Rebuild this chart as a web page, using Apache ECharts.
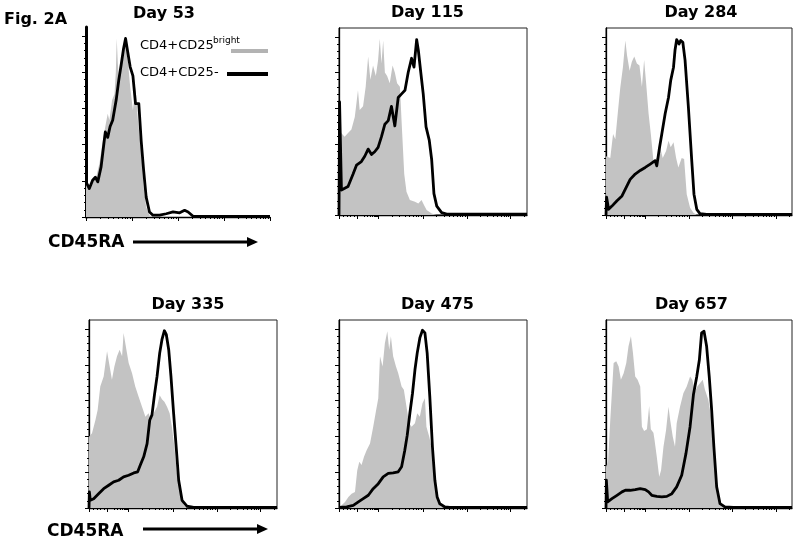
<!DOCTYPE html>
<html><head><meta charset="utf-8">
<script src="https://cdn.jsdelivr.net/npm/echarts@6/dist/echarts.min.js"></script>
<style>html,body{margin:0;padding:0;background:#fff}#c{width:800px;height:545px}</style>
</head><body><div id="c"></div>
<script>
// ---------- data ----------
const panelTitles = ['Day 53', 'Day 115', 'Day 284', 'Day 335', 'Day 475', 'Day 657'];
const seriesNames = ['CD4+CD25bright', 'CD4+CD25-'];
const xAxisLabel = 'CD45RA';

// x = position on the CD45RA display scale (0-100), y = % of max
const brightDay53 = [[0,18.5],[1.8,16.6],[3.6,20.3],[5.5,22],[7.3,29.5],[9.1,42],[10.5,50],[11.8,57],[12.7,53.5],[14.2,64.6],[15.5,68],[16.2,80],[16.7,98.7],[17.3,85],[17.8,77.5],[19.1,81],[20.4,92],[21.5,97],[22.7,87],[24,72],[25.5,59],[26.9,72],[28.2,53.5],[30,37],[31.3,16.6],[32.7,5.5],[34.5,1],[36,0]];
const negDay53 = [[0,19.4],[1.8,15.7],[3.6,20.3],[5.1,22],[6.4,19.4],[8.2,27.7],[9.5,38.7],[10.5,47],[11.8,44],[13.1,50],[14.5,53.5],[16.4,64.6],[17.8,75.6],[19.1,84],[20.4,93],[21.5,98.7],[22.7,91],[24,83],[25.5,78],[26.9,62.7],[28.7,62.7],[30,42],[31.3,26],[32.7,11],[34.5,2.8],[36.4,1],[40,1],[43.6,1.8],[47.3,2.8],[50.9,2.3],[53.6,3.7],[55.5,2.8],[58.2,0.4],[100,0.4]];

const brightDay115 = [[0,46],[1.2,46],[3,44],[4.8,46],[6.6,48],[8.4,55],[10.1,70],[11,59],[12.8,61],[14.2,72],[15.5,89],[16.7,76],[18.1,84],[19.6,78],[20.8,87],[21.7,99],[22.6,85],[23.5,98],[24.4,80],[25.6,78],[27,74],[28.5,84],[29.7,80],[30.9,74],[32.4,72],[33.6,46],[34.7,23],[35.9,13],[37.7,8.4],[40.4,7.5],[42.2,6.5],[43.9,8.4],[45.2,5.6],[46.6,2.8],[49.3,0.9],[52,0]];
const negDay115 = [[0,0],[0.3,63.5],[0.7,63.5],[1.3,14],[2.1,13],[4.8,16],[7.5,23],[9.3,28],[11.9,30],[13.7,33],[15.5,37],[17.3,34],[19,35.5],[20.8,38],[22.6,44],[24.4,51],[26.2,53],[27.9,61],[29.7,50],[31.5,66],[33.3,68],[35.1,70],[36.8,80],[38.6,88],[39.9,83],[41.3,98.5],[42.2,92.5],[43.4,81],[44.8,68],[46.3,49.5],[48,42],[49.3,31],[50.5,12],[52,5],[54.6,1.3],[57.3,0.5],[100,0.5]];

const brightDay284 = [[0,33],[2.3,32],[3.8,45.5],[5,42.5],[6.3,56.8],[7.7,71.8],[9.1,83],[10.4,98],[11.3,89.7],[12.7,81],[13.9,86],[15.2,89],[16.6,85],[18,84],[19.3,72],[20.5,87],[21.6,73.7],[22.9,56.8],[24.1,45.5],[25.5,30.5],[27.3,32],[29.1,38],[30.5,32],[32.3,36],[33.6,41.7],[34.8,38],[36.3,40.8],[37.7,32],[38.9,26.7],[40.7,32],[42,31.4],[43.4,11.7],[45.2,4.1],[47,1.3],[48.8,0]];
const negDay284 = [[0,0],[0.3,10],[0.6,10],[1.4,3.2],[3.2,5],[5.9,8],[8.6,10.7],[10.4,14.5],[13,20],[15.7,23],[18.4,25],[21.1,26.7],[23.8,28.6],[26.4,30.5],[27.3,27.6],[28.8,38],[30,45.5],[31.8,56.8],[33.6,66],[34.8,75.6],[36.3,83],[37.1,92.5],[38,98.5],[39.3,96],[40.2,98],[41.3,97],[42.5,87],[44.3,60.5],[46.1,30.5],[47.3,11.7],[48.8,3.2],[50.5,0.8],[54.1,0.3],[100,0.3]];

const brightDay335 = [[0,39.8],[1.6,41.7],[3.4,49],[4.6,54.8],[6,67.9],[7.8,73.5],[9.6,87.5],[11,79],[12.2,71.6],[13.5,79],[14.9,84.7],[16.3,88.4],[17.6,84.7],[18.4,97.8],[19.9,88.4],[21.1,81],[22.9,75.3],[24.6,67.9],[26.4,62.2],[28.2,56.6],[30,51],[31.7,52.9],[33,49],[34.4,52.9],[36.2,56.6],[37.6,63],[38.8,60.7],[40.1,59.4],[41.5,56.6],[42.9,52.9],[44.1,45.4],[45.4,34.2],[46.8,19.3],[48.6,8],[50.4,1.5],[52.1,0]];
const negDay335 = [[0,0],[0.2,9],[0.7,4.3],[2.5,5.2],[5.1,8],[7.8,10.8],[10.5,12.7],[13.1,14.6],[15.8,15.5],[18.4,17.4],[21.1,18.3],[23.8,19.6],[25.9,20.2],[27.3,24],[29.1,28.6],[30.9,36],[32.3,49],[33.5,52],[34.8,63],[36.2,73.5],[37.6,86.5],[38.8,94],[40.1,99],[41.1,97],[42.4,88.4],[43.6,73.5],[45,53],[46.5,32.3],[47.7,15.5],[49.5,4.3],[52.1,1],[55.7,0.3],[100,0.3]];

const brightDay475 = [[0,0],[1.4,1.5],[3.2,3.4],[5,6.2],[6.7,8],[8.5,9],[9.7,21],[10.8,25.8],[12,24],[13.3,28.6],[14.7,32.3],[16.5,36],[18.2,45.4],[19.6,53.8],[20.9,61.3],[21.8,84.7],[23.2,79],[24.4,92],[25.7,98.7],[26.7,88.4],[27.6,95.9],[28.8,84.7],[30.3,79],[31.5,75.3],[33.3,67.9],[34.5,66],[35.9,56.6],[37.3,47.3],[38.6,45.4],[40.4,47.3],[41.6,52.9],[43,51],[44.4,58.5],[45.7,61.3],[46.5,45.4],[48,39.8],[49.2,34.2],[50.4,23],[51.9,8],[53.3,2.4],[55.4,0]];
const negDay475 = [[0,0.3],[4.1,0.6],[7.6,1.5],[10.3,3.4],[12.9,5.2],[15.6,7.1],[18.2,10.8],[20.9,13.6],[23.5,17.4],[26.2,19.3],[28.8,19.6],[31.5,20.2],[33.3,23],[35,32.3],[36.3,40.7],[37.7,52.9],[39.1,64.1],[40.4,77.2],[41.6,86.5],[43,95],[44.4,99.3],[45.7,97.8],[46.9,86.5],[48.3,62.2],[49.7,34.2],[51,15.5],[52.2,6.2],[53.6,2.4],[56.3,0.6],[58.9,0.3],[100,0.3]];

const brightDay657 = [[0,23],[1.1,25.8],[2.3,49.2],[4.1,81],[5.5,81.9],[6.8,79],[8,71.6],[9.5,75.3],[10.9,81],[12.1,90.3],[13.4,95.9],[14.5,86.5],[15.7,73.5],[17,71.6],[18.4,67.9],[19.3,45.4],[20.5,43],[22,44],[23.2,57],[24.1,44],[25.5,42],[26.1,38],[27.3,28.6],[28.6,17.4],[29.6,21.1],[30.9,34.2],[32.3,43.6],[33.6,56.6],[34.5,49.2],[35.9,39.8],[37.1,34.2],[38,47.3],[39.8,56.6],[41.6,64.1],[43.4,67.9],[45.2,73.5],[46.4,71.6],[47.9,65],[49.1,67.9],[50.5,69.7],[52,71.6],[53.2,66],[55,60.4],[56.8,49.2],[58,34.2],[59.5,15.5],[60.9,4.3],[63,0.6],[64.8,0]];
const negDay657 = [[0,0],[0.2,15.5],[0.5,15.5],[0.9,3.4],[3.2,5.2],[5.9,7.1],[8.6,9],[10.4,9.9],[13,9.9],[15.7,10.3],[18.4,10.8],[21.1,10.3],[22.9,9],[24.6,7.1],[27.3,6.5],[30,6.2],[32.7,6.5],[35.4,8],[38,11.8],[40.7,18.3],[43,30.5],[45.2,45.4],[47,63.2],[48.8,73.5],[50.2,82.8],[51.4,97.8],[52.7,98.7],[54.1,90.3],[55.5,73.5],[56.8,54.8],[58,34.2],[59.5,11.8],[61.3,2.4],[63.9,0.6],[68.4,0.3],[100,0.3]];

// axis ticks (display positions)
const xMajorLog = [0, 25, 50, 75, 100];            // 10^0 .. 10^4
const xMajorBiex = [0, 9.8, 21, 44.6, 68, 91.3];     // 0, 10^1 .. 10^5
const xMinorBiexLinear = [2.2, 4.2, 6.2, 8.1];
const yMajor = [0, 20, 40, 60, 80, 100];

const brightData = [brightDay53, brightDay115, brightDay284, brightDay335, brightDay475, brightDay657];
const negData = [negDay53, negDay115, negDay284, negDay335, negDay475, negDay657];

// ---------- helpers ----------
function logMinors(majors, from, max) {
  const out = [];
  for (let i = from; i < majors.length; i++) {
    const a = majors[i];
    const w = (i + 1 < majors.length ? majors[i + 1] - a : majors[i] - majors[i - 1]);
    for (let m = 2; m <= 9; m++) {
      const v = a + w * Math.log10(m);
      if (v < max && (i + 1 >= majors.length || v < majors[i + 1])) out.push(+v.toFixed(2));
    }
  }
  return out;
}
const xMinorLog = logMinors(xMajorLog, 0, 100);
const xMinorBiex = xMinorBiexLinear.concat(logMinors(xMajorBiex, 1, 100));
const yMinor = [];
for (let i = 0; i < yMajor.length - 1; i++) for (let k = 1; k < 5; k++) yMinor.push(yMajor[i] + (yMajor[i + 1] - yMajor[i]) * k / 5);

// ---------- layout ----------
const grids = [
  {left: 86,  top: 27,  width: 184, height: 190, frame: false},
  {left: 339, top: 28,  width: 188, height: 187, frame: true},
  {left: 606, top: 28,  width: 186, height: 187, frame: true},
  {left: 89,  top: 320, width: 188, height: 188, frame: true},
  {left: 339, top: 320, width: 188, height: 188, frame: true},
  {left: 606, top: 320, width: 186, height: 188, frame: true}
];
const titlePos = [[164, 13.5], [427.5, 12.5], [701, 13], [188, 305], [437.5, 305], [691.5, 305]];

const option = {
  animation: false,
  backgroundColor: '#fff',
  grid: [], xAxis: [], yAxis: [], series: [], graphic: []
};

grids.forEach((g, i) => {
  option.grid.push({left: g.left, top: g.top, width: g.width, height: g.height,
    show: g.frame, borderColor: '#222', borderWidth: 1, backgroundColor: 'transparent'});
  const majors = i === 0 ? xMajorLog : xMajorBiex;
  const minors = i === 0 ? xMinorLog : xMinorBiex;
  const ax = option.xAxis.length;
  option.xAxis.push({gridIndex: i, type: 'value', min: 0, max: 100, position: 'bottom',
    axisLine: {show: true, onZero: false, lineStyle: {color: '#000', width: 1.3}},
    axisTick: {show: true, customValues: majors, length: 4, lineStyle: {color: '#000', width: 1}},
    axisLabel: {show: false}, splitLine: {show: false}});
  option.xAxis.push({gridIndex: i, type: 'value', min: 0, max: 100, position: 'bottom',
    axisLine: {show: false, onZero: false},
    axisTick: {show: true, customValues: minors, length: 2, lineStyle: {color: '#000', width: 1}},
    axisLabel: {show: false}, splitLine: {show: false}});
  const ay = option.yAxis.length;
  option.yAxis.push({gridIndex: i, type: 'value', min: 0, max: 105, position: 'left',
    axisLine: {show: true, onZero: false, lineStyle: {color: '#000', width: i === 0 ? 3 : 1.3}},
    axisTick: {show: true, customValues: yMajor, length: 4, lineStyle: {color: '#000', width: 1}},
    axisLabel: {show: false}, splitLine: {show: false}});
  option.yAxis.push({gridIndex: i, type: 'value', min: 0, max: 105, position: 'left',
    axisLine: {show: false, onZero: false},
    axisTick: {show: true, customValues: yMinor, length: 2, lineStyle: {color: '#000', width: 1}},
    axisLabel: {show: false}, splitLine: {show: false}});

  option.series.push({type: 'line', name: seriesNames[0], xAxisIndex: ax, yAxisIndex: ay,
    data: brightData[i], symbol: 'none', smooth: false, z: 2,
    lineStyle: {width: 0, color: '#c3c3c3'}, areaStyle: {color: '#c3c3c3', opacity: 1}});
  option.series.push({type: 'line', name: seriesNames[1], xAxisIndex: ax, yAxisIndex: ay,
    data: negData[i], symbol: 'none', smooth: false, z: 3,
    lineStyle: {width: 2.8, color: '#000', join: 'round'}});

  option.graphic.push({type: 'text', style: {text: panelTitles[i], x: titlePos[i][0], y: titlePos[i][1],
    font: 'bold 16px "DejaVu Sans"', fill: '#000', align: 'center', verticalAlign: 'middle',
    textAlign: 'center', textVerticalAlign: 'middle'}});
});

function txt(text, x, y, font, align) {
  return {type: 'text', z: 10, style: {text, x, y, font, fill: '#000', align: align || 'left', verticalAlign: 'middle',
    textAlign: align || 'left', textVerticalAlign: 'middle'}};
}
function arrow(x1, x2, y) {
  return [
    {type: 'line', z: 10, shape: {x1: x1, y1: y, x2: x2 - 8, y2: y}, style: {stroke: '#000', lineWidth: 3}},
    {type: 'polygon', z: 10, shape: {points: [[x2 - 11, y - 5], [x2, y], [x2 - 11, y + 5]]}, style: {fill: '#000'}}
  ];
}
option.graphic.push(txt('Fig. 2A', 4, 20, 'bold 16px "DejaVu Sans"'));
option.graphic.push(txt(xAxisLabel, 48, 243, 'bold 17px "DejaVu Sans"'));
option.graphic.push(...arrow(133, 258, 242));
option.graphic.push(txt(xAxisLabel, 47, 532, 'bold 17px "DejaVu Sans"'));
option.graphic.push(...arrow(143, 268, 529));
// legend
option.graphic.push(txt('CD4+CD25', 140, 46, '13px "DejaVu Sans"'));
option.graphic.push(txt('bright', 213, 41, '9px "DejaVu Sans"'));
option.graphic.push({type: 'line', z: 10, shape: {x1: 231, y1: 51, x2: 268, y2: 51}, style: {stroke: '#b3b3b3', lineWidth: 4}});
option.graphic.push(txt('CD4+CD25-', 140, 73, '13px "DejaVu Sans"'));
option.graphic.push({type: 'line', z: 10, shape: {x1: 227, y1: 74, x2: 268, y2: 74}, style: {stroke: '#000', lineWidth: 4}});

const chart = echarts.init(document.getElementById('c'), null, {renderer: 'canvas'});
chart.setOption(option);
</script></body></html>
